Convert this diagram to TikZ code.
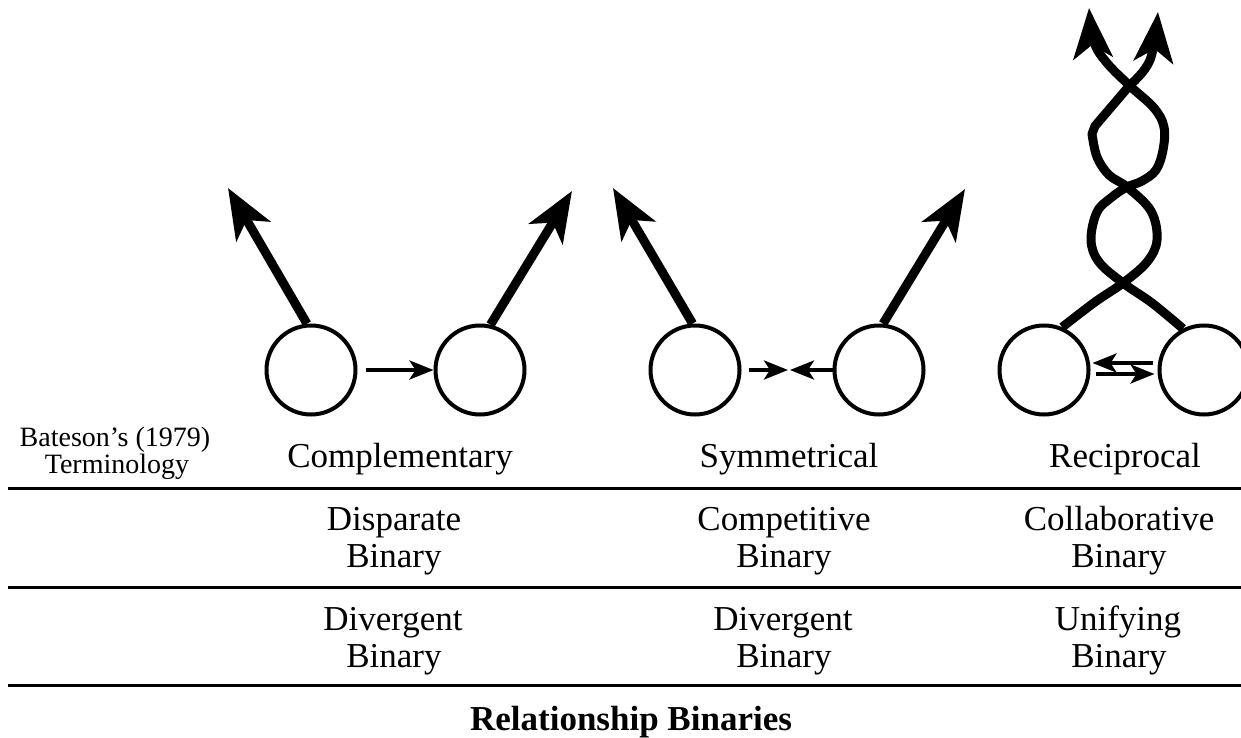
\documentclass[tikz,border=0pt]{standalone}
\usepackage{fontspec}
\setmainfont{Liberation Serif}
\usetikzlibrary{arrows.meta}
\begin{document}
\begin{tikzpicture}[x=1pt,y=-1pt,
  unit/.style={circle, draw, line width=4pt, minimum size=89pt, inner sep=0pt},
  bigarrow/.style={line width=9pt, -{Stealth[length=50pt,width=39pt,inset=13pt]}},
  strand/.style={line width=9pt, line join=round, -{Stealth[length=50pt,width=39pt,inset=13pt]}},
  smallarrow/.style={line width=4pt, -{Stealth[length=24pt,width=19pt,inset=6pt]}},
  hrule/.style={line width=3pt},
  lbl/.style={font=\fontsize{35}{37}\selectfont, anchor=base, inner sep=0pt},
  sidetxt/.style={font=\fontsize{28}{26}\selectfont, anchor=base, inner sep=0pt},
  titletxt/.style={font=\fontsize{35}{37}\selectfont\bfseries, anchor=base, inner sep=0pt}
]
\useasboundingbox (0,0) rectangle (1241,738);

% circles
\node[unit] (c1a) at (311,370) {};
\node[unit] (c1b) at (480,370) {};
\node[unit] (c2a) at (695,370) {};
\node[unit] (c2b) at (879,370) {};
\node[unit] (c3a) at (1044,370) {};
\node[unit] (c3b) at (1204,370) {};

% tips of the outward arrows
\coordinate (t1a) at (228,188);
\coordinate (t1b) at (572,191);
\coordinate (t2a) at (613,188);
\coordinate (t2b) at (965,189);
\coordinate (m2) at (789,370);

% Complementary
\draw[bigarrow] (c1a.95) -- (t1a);
\draw[bigarrow] (c1b.77) -- (t1b);
\draw[smallarrow] ([xshift=8pt]c1a.east) -- (c1b.west);

% Symmetrical
\draw[bigarrow] (c2a.93) -- (t2a);
\draw[bigarrow] (c2b.85) -- (t2b);
\draw[smallarrow] ([xshift=7pt]c2a.east) -- ([xshift=-1pt]m2);
\draw[smallarrow] ([xshift=2pt]c2b.west) -- ([xshift=1pt]m2);

% Reciprocal
\draw[smallarrow] ([shift={(-5pt,7pt)}]c3b.west) -- ([shift={(2pt,7pt)}]c3a.east);
\draw[smallarrow] ([shift={(5pt,-4pt)}]c3a.east) -- ([shift={(-3pt,-4pt)}]c3b.west);

\draw[strand] plot[smooth, tension=0.6] coordinates {(c3a.67) (1095,302) (1123,283) (1147,262) (1157,240) (1151,211) (1127,187) (1109,175) (1097,157) (1092,134)}
  -- (1095,126) -- plot[smooth, tension=0.6] coordinates {(1130,85) (1150,60) (1158,12)};
\draw[strand] plot[smooth, tension=0.6] coordinates {(c3b.117) (1152,303) (1123,283) (1099,262) (1091,240) (1097,212) (1112,197) (1127,187) (1142,181) (1156,170) (1163,150) (1164,127) (1154,108) (1130,86) (1107,63) (1094,42) (1089,8)};

% rules
\coordinate (r1l) at (8,488);  \coordinate (r1r) at (1241,488);
\coordinate (r2l) at (8,587);  \coordinate (r2r) at (1241,587);
\coordinate (r3l) at (8,685);  \coordinate (r3r) at (1241,685);
\draw[hrule] (r1l) -- (r1r);
\draw[hrule] (r2l) -- (r2r);
\draw[hrule] (r3l) -- (r3r);

% texts
\node[sidetxt] (s1) at (115,446) {Bateson’s (1979)};
\node[sidetxt] (s2) at (117,473) {Terminology};

\node[lbl] (h1) at (400,467) {Complementary};
\node[lbl] (h2) at (789,467) {Symmetrical};
\node[lbl] (h3) at (1125,467) {Reciprocal};

\node[lbl] (a1) at (394,530) {Disparate};
\node[lbl] (a1b) at (394,567) {Binary};
\node[lbl] (a2) at (784,530) {Competitive};
\node[lbl] (a2b) at (784,567) {Binary};
\node[lbl] (a3) at (1119,530) {Collaborative};
\node[lbl] (a3b) at (1119,567) {Binary};

\node[lbl] (b1) at (393,630) {Divergent};
\node[lbl] (b1b) at (394,667) {Binary};
\node[lbl] (b2) at (783,630) {Divergent};
\node[lbl] (b2b) at (784,667) {Binary};
\node[lbl] (b3) at (1118,630) {Unifying};
\node[lbl] (b3b) at (1119,667) {Binary};

\node[titletxt] (title) at (631,730) {Relationship Binaries};
\end{tikzpicture}
\end{document}
